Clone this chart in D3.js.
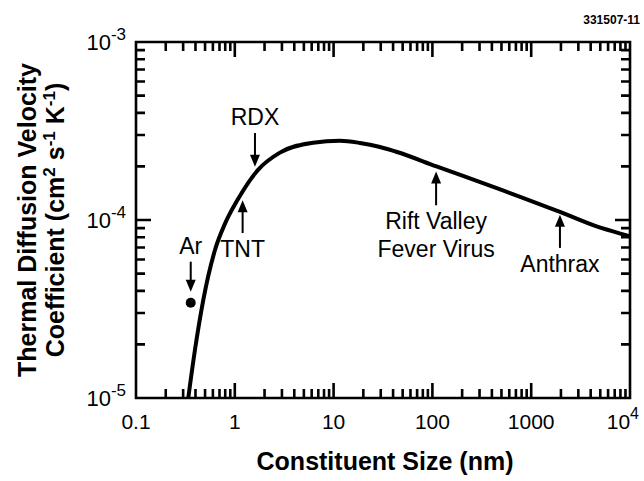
<!DOCTYPE html>
<html>
<head>
<meta charset="utf-8">
<script src="https://cdn.jsdelivr.net/npm/d3@7"></script>
<style>
  html, body { margin: 0; padding: 0; background: #fff; }
  svg { display: block; }
  text { font-family: "Liberation Sans", Arial, Helvetica, sans-serif; fill: #000; }
</style>
</head>
<body>
<svg id="chart" width="644" height="481"></svg>
<script>
// ---------------- data ----------------
const curveSize  = [0.338, 0.395, 0.48, 0.63, 0.80, 1.06, 1.7, 2.86, 6.2, 11.6, 18.5, 29.5, 43.9, 110, 448, 1954, 4600, 9250, 10000];
const curveCoef  = [1.0e-5, 1.86e-5, 3.56e-5, 6.78e-5, 9.6e-5, 1.29e-4, 1.9e-4, 2.39e-4, 2.72e-4, 2.79e-4, 2.71e-4, 2.57e-4, 2.41e-4, 2.0e-4, 1.51e-4, 1.11e-4, 9.2e-5, 8.2e-5, 8.1e-5];

const pointSize = [0.358];
const pointCoef = [3.43e-5];

const annLabels   = [["Ar"], ["RDX"], ["TNT"], ["Rift Valley", "Fever Virus"], ["Anthrax"]];
const annSize     = [0.358, 1.60, 1.20, 109, 1954];
const annTailCoef = [5.83e-5, 3.08e-4, 8.45e-5, 1.21e-4, 6.97e-5];
const annTipCoef  = [3.95e-5, 1.99e-4, 1.29e-4, 1.87e-4, 1.07e-4];

const xTickValues = [0.1, 1, 10, 100, 1000, 10000];
const xTickLabels = [["0.1", ""], ["1", ""], ["10", ""], ["100", ""], ["1000", ""], ["10", "4"]];
const yTickValues = [1e-5, 1e-4, 1e-3];
const yTickLabels = [["10", "-5"], ["10", "-4"], ["10", "-3"]];
const xMinorValues = [0.2, 0.3, 0.4, 0.5, 0.6, 0.7, 0.8, 0.9, 2, 3, 4, 5, 6, 7, 8, 9, 20, 30, 40, 50, 60, 70, 80, 90,
  200, 300, 400, 500, 600, 700, 800, 900, 2000, 3000, 4000, 5000, 6000, 7000, 8000, 9000];
const yMinorValues = [2e-5, 3e-5, 4e-5, 5e-5, 6e-5, 7e-5, 8e-5, 9e-5, 2e-4, 3e-4, 4e-4, 5e-4, 6e-4, 7e-4, 8e-4, 9e-4];

const xTitle = "Constituent Size (nm)";
const yTitle1 = "Thermal Diffusion Velocity";
const figId = "331507-11";

// ---------------- layout ----------------
const svg = d3.select("#chart");
const L = 136, R = 630, T = 42, B = 398;
const x = d3.scaleLog().domain([0.1, 1e4]).range([L, R]);
const y = d3.scaleLog().domain([1e-5, 1e-3]).range([B, T]);
const MAJ = 15, MIN = 9;

// tick labels
const xl = svg.append("g").attr("font-size", 21);
xTickValues.forEach((v, i) => {
  const last = i === xTickValues.length - 1;
  const t = xl.append("text").attr("x", last ? x(v) + 9 : x(v)).attr("y", B + 31)
    .attr("text-anchor", last ? "end" : "middle");
  t.append("tspan").text(xTickLabels[i][0]);
  if (xTickLabels[i][1]) t.append("tspan").attr("dy", -10).attr("font-size", 16).text(xTickLabels[i][1]);
});
const yl = svg.append("g").attr("font-size", 22);
yTickValues.forEach((v, i) => {
  const t = yl.append("text").attr("x", 126).attr("y", y(v) + 8).attr("text-anchor", "end");
  t.append("tspan").text(yTickLabels[i][0]);
  t.append("tspan").attr("dy", -10).attr("font-size", 17).text(yTickLabels[i][1]);
});

// curve
const pts = curveSize.map((s, i) => [x(s), y(curveCoef[i])]);
svg.append("path").attr("d", d3.line().curve(d3.curveMonotoneX)(pts))
  .attr("fill", "none").attr("stroke", "#000").attr("stroke-width", 4).attr("stroke-linecap", "butt");

// Ar point
svg.selectAll("circle.pt").data(pointSize).join("circle").attr("class", "pt")
  .attr("cx", (d) => x(d)).attr("cy", (d, i) => y(pointCoef[i])).attr("r", 5).attr("fill", "#000");

// annotations
const ag = svg.append("g").attr("font-size", 23);
annLabels.forEach((lab, i) => {
  const ax = x(annSize[i]);
  const y0 = y(annTailCoef[i]), y1 = y(annTipCoef[i]);
  const dir = y1 > y0 ? 1 : -1; // 1: pointing down
  const headLen = 12, headW = 5;
  ag.append("line").attr("x1", ax).attr("x2", ax).attr("y1", y0).attr("y2", y1 - dir * headLen + dir * 1)
    .attr("stroke", "#000").attr("stroke-width", 2);
  ag.append("path").attr("d", `M${ax},${y1} L${ax - headW},${y1 - dir * headLen} L${ax + headW},${y1 - dir * headLen} Z`)
    .attr("fill", "#000");
  if (dir === 1) {
    lab.forEach((s, j) => {
      ag.append("text").attr("x", ax).attr("y", y0 - 8 - (lab.length - 1 - j) * 28)
        .attr("text-anchor", "middle").text(s);
    });
  } else {
    lab.forEach((s, j) => {
      ag.append("text").attr("x", ax).attr("y", y0 + 24 + j * 28)
        .attr("text-anchor", "middle").text(s);
    });
  }
});

// axis titles
svg.append("text").attr("x", (L + R) / 2 + 2).attr("y", 470).attr("text-anchor", "middle")
  .attr("font-size", 25).attr("font-weight", "bold").text(xTitle);

const yt = svg.append("g").attr("transform", `translate(0,${(T + B) / 2}) rotate(-90)`)
  .attr("font-size", 25).attr("font-weight", "bold").attr("text-anchor", "middle");
yt.append("text").attr("x", 0).attr("y", 36).text(yTitle1);
const t2 = yt.append("text").attr("x", 0).attr("y", 64);
t2.append("tspan").text("Coefficient (cm");
t2.append("tspan").attr("dy", -9).attr("font-size", 17).text("2");
t2.append("tspan").attr("dy", 9).text(" s");
t2.append("tspan").attr("dy", -9).attr("font-size", 17).text("-1");
t2.append("tspan").attr("dy", 9).text(" K");
t2.append("tspan").attr("dy", -9).attr("font-size", 17).text("-1");
t2.append("tspan").attr("dy", 9).text(")");

svg.append("text").attr("x", 640).attr("y", 24).attr("text-anchor", "end")
  .attr("font-size", 12).attr("font-weight", "bold").text(figId);

// frame + inward ticks on all four sides, drawn last as one path
let d = `M${L},${T}H${R}V${B}H${L}Z`;
xTickValues.forEach(v => { const p = x(v); d += `M${p},${B}V${B - MAJ}M${p},${T}V${T + MAJ}`; });
xMinorValues.forEach(v => { const p = x(v); d += `M${p},${B}V${B - MIN}M${p},${T}V${T + MIN}`; });
yTickValues.forEach(v => { const p = y(v); d += `M${L},${p}H${L + MAJ}M${R},${p}H${R - MAJ}`; });
yMinorValues.forEach(v => { const p = y(v); d += `M${L},${p}H${L + MIN}M${R},${p}H${R - MIN}`; });
svg.append("path").attr("d", d).attr("fill", "none").attr("stroke", "#000").attr("stroke-width", 2.6);
</script>
</body>
</html>
